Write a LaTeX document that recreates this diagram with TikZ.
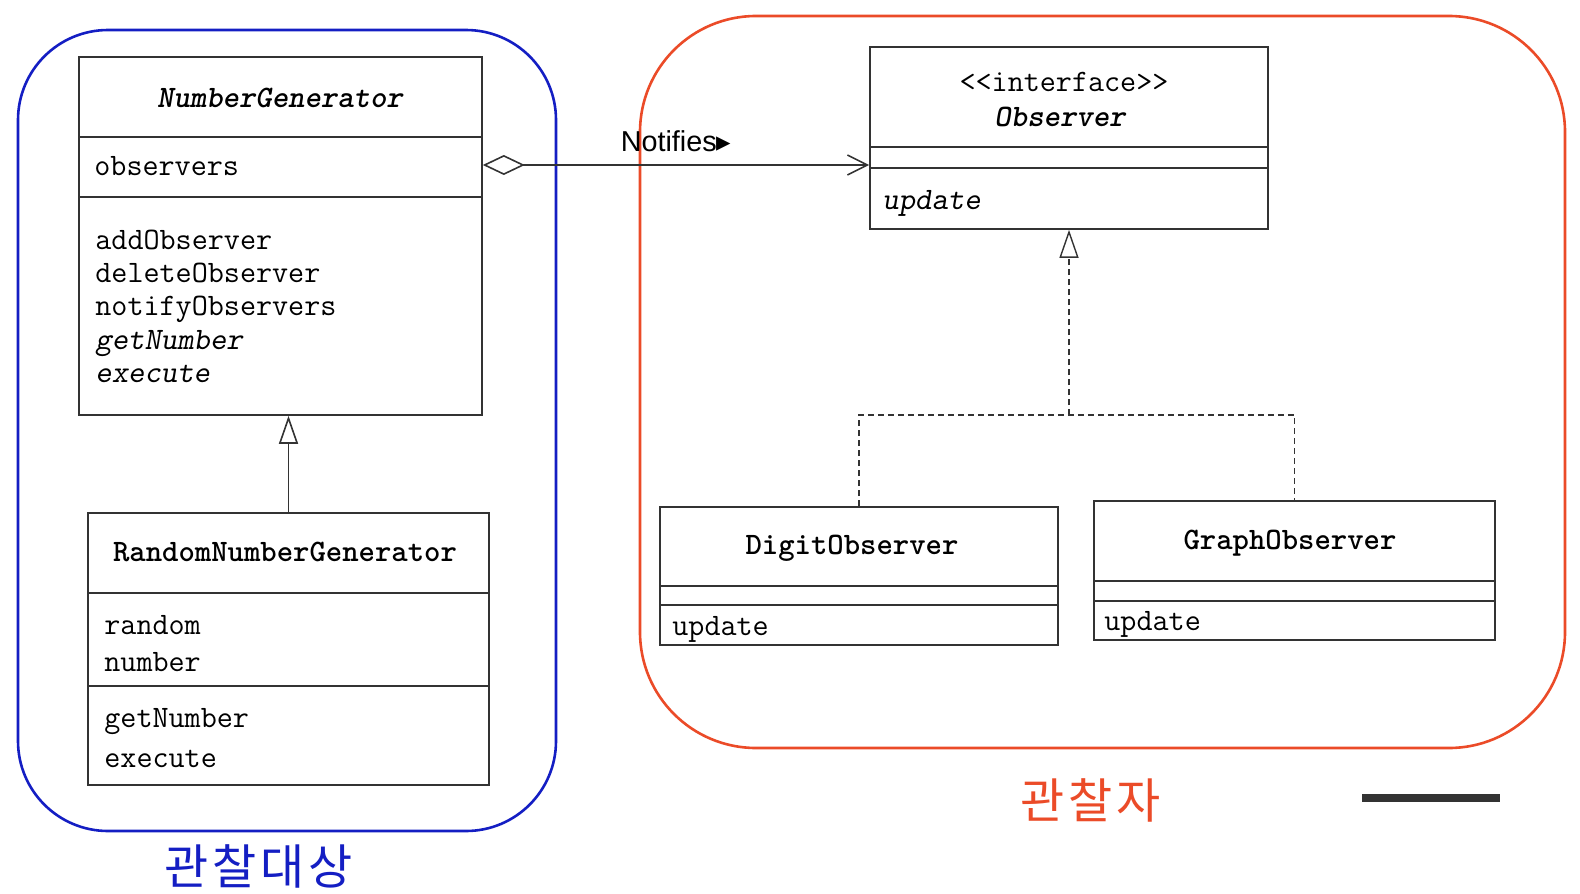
\documentclass[tikz,border=0pt]{standalone}
\usepackage{fontspec}
\usetikzlibrary{arrows.meta,positioning,fit}
\usepackage{xcolor}

\newfontfamily\labelfont{Liberation Sans}
\newfontfamily\symfont{DejaVu Sans}
\newfontfamily\kofont[LetterSpace=8]{Noto Sans CJK KR}
\newcommand{\membersize}{\fontsize{15.6}{18}\selectfont}

\definecolor{subjectblue}{RGB}{20,30,195}
\definecolor{observerred}{RGB}{235,75,40}

\tikzset{
    classbox/.style={draw=black!80, line width=0.8pt, inner sep=0pt},
    member/.style={anchor=west, inner sep=0pt, text height=0.7em, text depth=0.2em, font=\membersize\ttfamily},
    classname/.style={member, anchor=center, font=\membersize\ttfamily\bfseries},
    divider/.style={draw=black!80, line width=0.8pt},
    generalize/.style={draw=black!80, line width=0.8pt, -{Triangle[open, length=14pt, width=9.5pt]}},
    realize/.style={draw=black!80, line width=0.7pt, dash pattern=on 3pt off 2pt},
    notify/.style={draw=black!80, line width=0.8pt, {Diamond[open, length=21pt, width=10pt]}-{Straight Barb[length=10pt, width=10pt]}},
    frame/.style={line width=1.3pt, rounded corners=#1},
    grouplabel/.style={font=\kofont\fontsize{24}{26}\selectfont}
}

\begin{document}
\begin{tikzpicture}[x=0.5pt, y=-0.5pt]
    \useasboundingbox (0,0) rectangle (1580,894);

    % Subject side (blue frame)
    \draw[frame=45pt, subjectblue] (18,30) rectangle (556,831);
    \node[grouplabel, text=subjectblue] (subjlabel) at (259,866) {관찰대상};

    % Observer side (red frame)
    \draw[frame=58pt, observerred] (640,16) rectangle (1565,748);
    \node[grouplabel, text=observerred] (obslabel) at (1091,800) {관찰자};

    % NumberGenerator
    \node[classbox, fit={(79,57) (482,415)}] (ng) {};
    \draw[divider] (79,137) -- (482,137);
    \draw[divider] (79,197) -- (482,197);
    \node[classname, font=\membersize\ttfamily\bfseries\slshape] (ngname) at (280,102) {NumberGenerator};
    \node[member] (attr) at (94,170) {observers};
    \node[member] (add) at (95,244) {addObserver};
    \node[member] (del) at (95,277) {deleteObserver};
    \node[member] (notifyop) at (95,310) {notifyObservers};
    \node[member, font=\membersize\ttfamily\slshape] (getnum) at (95,344) {getNumber};
    \node[member, font=\membersize\ttfamily\slshape] (exec) at (95,377) {execute};

    % RandomNumberGenerator
    \node[classbox, fit={(88,513) (489,785)}] (rng) {};
    \draw[divider] (88,593) -- (489,593);
    \draw[divider] (88,686) -- (489,686);
    \node[classname] (rngname) at (285,556) {RandomNumberGenerator};
    \node[member] (rand) at (104,629) {random};
    \node[member] (num) at (104,666) {number};
    \node[member] (rgetnum) at (104,722) {getNumber};
    \node[member] (rexec) at (104,762) {execute};

    % Observer interface
    \node[classbox, fit={(870,47) (1268,229)}] (obs) {};
    \draw[divider] (870,147) -- (1268,147);
    \draw[divider] (870,168) -- (1268,168);
    \node[member, anchor=center] (stereo) at (1064,86) {<<interface>>};
    \node[classname, font=\membersize\ttfamily\bfseries\slshape] (obsname) at (1060,121) {Observer};
    \node[member, font=\membersize\ttfamily\slshape] (obsupd) at (882,204) {update};

    % DigitObserver
    \node[classbox, fit={(660,507) (1058,645)}] (dobs) {};
    \draw[divider] (660,586) -- (1058,586);
    \draw[divider] (660,605) -- (1058,605);
    \node[classname] (dobsname) at (852,549) {DigitObserver};
    \node[member] (dobsupd) at (672,630) {update};

    % GraphObserver
    \node[classbox, fit={(1094,501) (1495,640)}] (gobs) {};
    \draw[divider] (1094,581) -- (1495,581);
    \draw[divider] (1094,601) -- (1495,601);
    \node[classname] (gobsname) at (1290,544) {GraphObserver};
    \node[member] (gobsupd) at (1104,625) {update};

    % Connectors
    \draw[notify] (ng.east |- 0,165) -- node[above=3pt, font=\labelfont\fontsize{14.4}{16}\selectfont] (notifies) {Notifies{\symfont ▸}} (obs.west |- 0,165);
    \draw[generalize] (rng.north) -- (rng.north |- ng.south);
    \coordinate (bend) at (obs.south |- 0,415);
    \draw[realize] (dobs.north) |- (bend) -| (gobs.north);
    \draw[realize, -{Triangle[open, length=14pt, width=9.5pt]}] (bend) -- (obs.south);

    % scan mark, bottom right
    \fill[black!80] (1362,794) rectangle (1500,802);
\end{tikzpicture}
\end{document}
